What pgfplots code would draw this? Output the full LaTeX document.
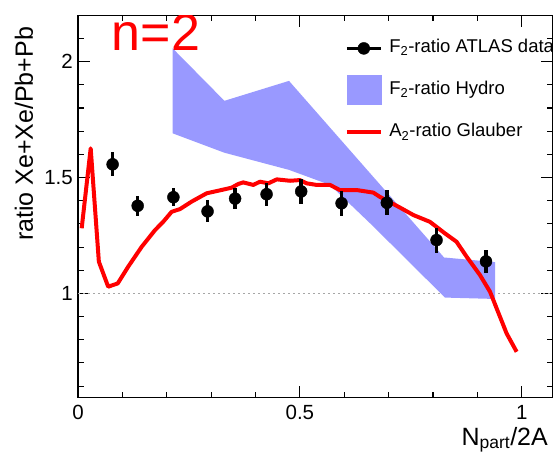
\documentclass[border=0pt]{standalone}
\usepackage{pgfplots}
\pgfplotsset{compat=1.18}
\usepackage{fontspec}
\setmainfont{Liberation Sans}
\definecolor{hydro}{RGB}{153,153,255}
\begin{document}
\begin{tikzpicture}
\path[use as bounding box] (0,0) rectangle (553pt,454pt);
\begin{axis}[
  at={(78pt,56.3pt)}, anchor=south west,
  scale only axis, width=475pt, height=382.4pt,
  xmin=0, xmax=1.0705, ymin=0.55, ymax=2.2,
  xtick={0,0.5,1}, xticklabels={0,0.5,1},
  ytick={1,1.5,2}, yticklabels={1,1.5,2},
  minor xtick={0.1,0.2,0.3,0.4,0.6,0.7,0.8,0.9},
  minor ytick={0.6,0.7,0.8,0.9,1.1,1.2,1.3,1.4,1.6,1.7,1.8,1.9,2.1},
  tick align=inside, major tick length=12pt, minor tick length=6pt,
  every tick/.style={black, line width=1.1pt},
  axis line style={line width=1.3pt},
  ticklabel style={font=\fontsize{20.5}{24}\selectfont, inner sep=0pt},
  xticklabel style={yshift=-7pt},
  yticklabel style={xshift=-5pt},
  xlabel={N\textsubscript{part}/2A},
  ylabel={ratio Xe+Xe/Pb+Pb},
  label style={font=\fontsize{25}{30}\selectfont},
  xlabel style={at={([yshift=-47.3pt]rel axis cs:0.9895,0)}, anchor=base east, inner sep=0pt},
  ylabel style={at={([xshift=-45pt,yshift=-11.4pt]rel axis cs:0,1)}, anchor=base east, inner sep=0pt},
  legend style={at={(rel axis cs:0.555,0.944)}, anchor=north west, draw=none, fill=none,
    font=\fontsize{18.5}{22}\selectfont, row sep=23pt, column sep=6pt,
    nodes={inner sep=0pt, text height=14pt, text depth=5pt}},
  legend cell align=left,
]
\addlegendimage{legend image code/.code={\draw[black, line width=3pt] (0pt,0pt) -- (34.5pt,0pt); \fill[black] (17pt,0pt) circle (6pt);}}
\addlegendentry{F\textsubscript{2}-ratio ATLAS data}
\addlegendimage{legend image code/.code={\fill[hydro, draw=none, overlay] (0pt,-15pt) rectangle (35pt,15pt); \path[draw=none] (0pt,0pt) -- (35pt,0pt);}}
\addlegendentry{F\textsubscript{2}-ratio Hydro}
\addlegendimage{legend image code/.code={\draw[red, line width=4pt] (0pt,0pt) -- (34.5pt,0pt);}}
\addlegendentry{A\textsubscript{2}-ratio Glauber}

\addplot[forget plot, gray!70, line width=1.5pt, dash pattern=on 1.5pt off 3.5pt] coordinates {(0,1) (1.0705,1)};

\addplot[forget plot, fill=hydro, draw=none] coordinates {
(0.213,2.058) (0.33,1.831) (0.4755,1.917) (0.825,1.155) (0.94,1.135)
(0.94,0.976) (0.827,0.982) (0.665,1.290) (0.568,1.468) (0.4755,1.533) (0.33,1.607) (0.213,1.691)
} -- cycle;

\addplot[forget plot, red, line width=4pt, line join=round] coordinates {
(0.0083,1.281) (0.0286,1.626) (0.047,1.137) (0.068,1.029) (0.0895,1.043) (0.113,1.115)
(0.1435,1.201) (0.1735,1.273) (0.192,1.309) (0.211,1.352) (0.230,1.364) (0.256,1.396)
(0.29,1.432) (0.316,1.443) (0.346,1.456) (0.361,1.472) (0.3725,1.479) (0.395,1.468)
(0.41,1.482) (0.429,1.475) (0.448,1.492) (0.478,1.486) (0.5,1.489) (0.515,1.475)
(0.538,1.468) (0.568,1.468) (0.59,1.446) (0.628,1.446) (0.6655,1.435) (0.68,1.417)
(0.726,1.37) (0.756,1.338) (0.793,1.309) (0.827,1.259) (0.853,1.223) (0.876,1.158)
(0.906,1.079) (0.9286,1.007) (0.966,0.827) (0.9886,0.748)
};

\addplot[forget plot, black, only marks, mark=*, mark size=6pt,
  error bars/.cd, y dir=both, y explicit, error mark=none,
  error bar style={line width=3.5pt}] table[x=x, y=y, y error=e] {
x y e
0.078 1.557 0.052
0.1345 1.378 0.043
0.215 1.415 0.040
0.292 1.354 0.048
0.354 1.409 0.045
0.425 1.428 0.050
0.503 1.440 0.053
0.594 1.389 0.054
0.696 1.391 0.054
0.808 1.230 0.054
0.9195 1.138 0.050
};

\node[red, anchor=base west, inner sep=0pt, font=\fontsize{52}{60}\selectfont] at (rel axis cs:0.071,0.909) {n=2};
\end{axis}
\end{tikzpicture}
\end{document}
